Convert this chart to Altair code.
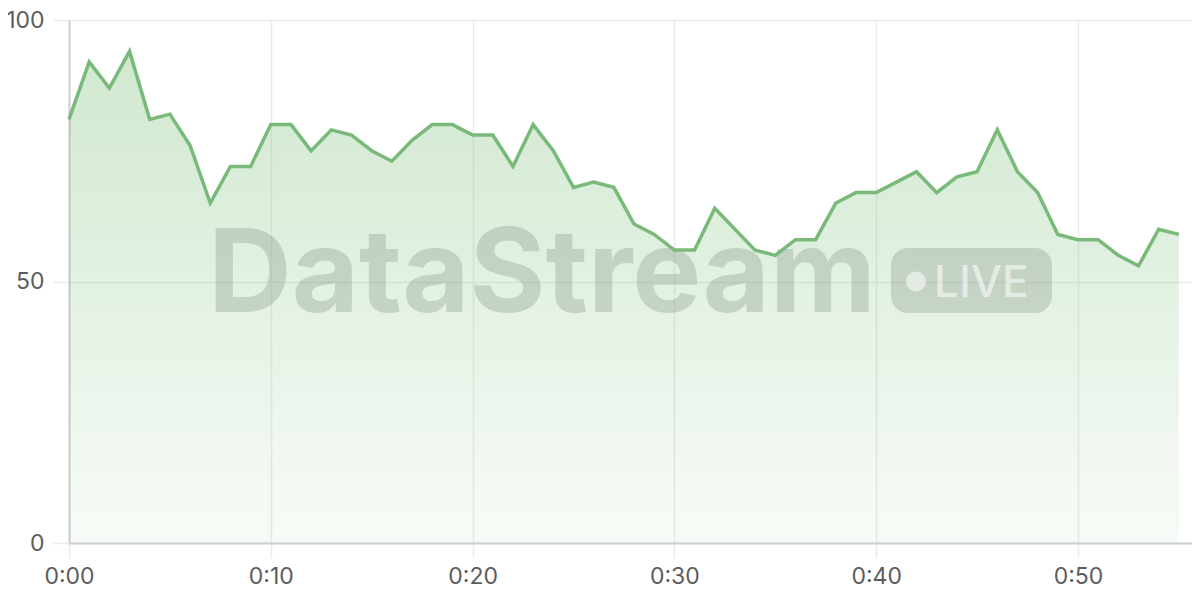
import altair as alt
import pandas as pd

minutes = list(range(56))
values = [81, 92, 87, 94, 81, 82, 76, 65, 72, 72,
          80, 80, 75, 79, 78, 75, 73, 77, 80, 80,
          78, 78, 72, 80, 75, 68, 69, 68, 61, 59,
          56, 56, 64, 60, 56, 55, 58, 58, 65, 67,
          67, 69, 71, 67, 70, 71, 79, 71, 67, 59,
          58, 58, 55, 53, 60, 59]
x_ticks = [0, 10, 20, 30, 40, 50]
y_ticks = [0, 50, 100]

df = pd.DataFrame({"t": minutes, "v": values})

FONT = "Inter"
LINE = "#79b979"

x_enc = alt.X("t:Q", scale=alt.Scale(domain=[0, 55.65], nice=False, zero=False),
              axis=alt.Axis(values=x_ticks, title=None,
                            labelExpr="'0:' + (datum.value < 10 ? '0' : '') + datum.value",
                            grid=True, gridColor="#ebebeb", gridWidth=1.5,
                            domainColor="#cfcfcf", domainWidth=2,
                            tickColor="#ebebeb", tickWidth=1.5, tickSize=15,
                            labelFont=FONT, labelFontSize=23, labelColor="#5c5c5c",
                            labelPadding=7, labelFlush=False))
y_enc = alt.Y("v:Q", scale=alt.Scale(domain=[0, 100], nice=False),
              axis=alt.Axis(values=y_ticks, title=None,
                            grid=True, gridColor="#ebebeb", gridWidth=1.5,
                            domainColor="#cfcfcf", domainWidth=2,
                            tickColor="#ebebeb", tickWidth=1.5, tickSize=16,
                            labelFont=FONT, labelFontSize=23, labelColor="#5c5c5c",
                            labelPadding=9))

base = alt.Chart(df)

area = base.mark_area(
    color=alt.Gradient(
        gradient="linear",
        stops=[alt.GradientStop(color="rgba(124,191,124,0.06)", offset=0),
               alt.GradientStop(color="rgba(124,191,124,0.36)", offset=1)],
        x1=1, x2=1, y1=1, y2=0,
    ),
).encode(x=x_enc, y=y_enc)

line = base.mark_line(color=LINE, strokeWidth=3.5, strokeJoin="miter").encode(x="t:Q", y="v:Q")

wm_color = "#7f8f7f"
wm_text = alt.Chart(pd.DataFrame({"s": ["DataStream"]})).mark_text(
    font=FONT, fontSize=116, fontWeight="bold", color=wm_color, opacity=0.3,
    align="left", baseline="alphabetic",
).encode(text="s:N", x=alt.value(139), y=alt.value(292))

badge = alt.Chart(pd.DataFrame({"s": ["LIVE"]})).mark_rect(
    color=wm_color, opacity=0.3, cornerRadius=17,
).encode(x=alt.value(822), x2=alt.value(983), y=alt.value(228), y2=alt.value(293))

dot = alt.Chart(pd.DataFrame({"s": ["LIVE"]})).mark_point(
    shape="circle", filled=True, color="#ffffff", opacity=0.55, size=400,
).encode(x=alt.value(847), y=alt.value(261.5))

live = alt.Chart(pd.DataFrame({"s": ["LIVE"]})).mark_text(
    font=FONT, fontSize=44, fontWeight=500, color="#ffffff", opacity=0.55,
    align="left", baseline="alphabetic",
).encode(text="s:N", x=alt.value(865), y=alt.value(277))

chart = alt.layer(area, wm_text, badge, dot, live, line).properties(
    width=1123, height=523,
    autosize=alt.AutoSizeParams(type="none"),
    padding={"left": 61, "top": 12, "right": 0, "bottom": 56},
).configure_view(stroke=None)

chart.save("out.html", embed_options={"renderer": "svg", "actions": False})
